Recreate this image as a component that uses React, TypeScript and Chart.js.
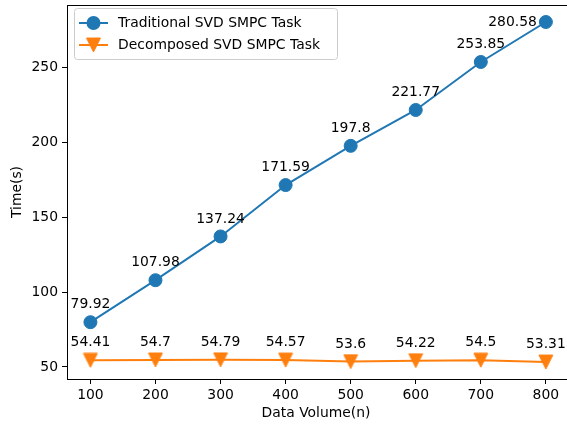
import React, { useEffect, useRef } from "react";
import { Chart, registerables } from "chart.js";

Chart.register(...registerables);

const categories = [100, 200, 300, 400, 500, 600, 700, 800];
const traditional = [79.92, 107.98, 137.24, 171.59, 197.8, 221.77, 253.85, 280.58];
const decomposed = [54.41, 54.7, 54.79, 54.57, 53.6, 54.22, 54.5, 53.31];
const yTicks = [50, 100, 150, 200, 250];
const xTicks = [100, 200, 300, 400, 500, 600, 700, 800];
const seriesNames = ["Traditional SVD SMPC Task", "Decomposed SVD SMPC Task"];

const BLUE = "#1f77b4";
const ORANGE = "#ff7f0e";
const FONT = "'DejaVu Sans', sans-serif";
const FS = 13.9;

function drawTriangle(ctx: CanvasRenderingContext2D, x: number, y: number, s: number, color: string) {
  ctx.save();
  ctx.fillStyle = color;
  ctx.strokeStyle = color;
  ctx.lineWidth = 1;
  ctx.beginPath();
  ctx.moveTo(x - s / 2, y - s / 2);
  ctx.lineTo(x + s / 2, y - s / 2);
  ctx.lineTo(x, y + s / 2);
  ctx.closePath();
  ctx.fill();
  ctx.stroke();
  ctx.restore();
}

function makeTriangleImage() {
  const c = document.createElement("canvas");
  c.width = 16;
  c.height = 16;
  const ctx = c.getContext("2d")!;
  drawTriangle(ctx, 8, 8, 13.9, ORANGE);
  return c;
}

export default function App() {
  const ref = useRef<HTMLCanvasElement>(null);
  useEffect(() => {
    document.body.style.margin = "0";
    const tri = makeTriangleImage();
    const overlay = {
      id: "overlay",
      afterDatasetsDraw(chart: any) {
        const ctx = chart.ctx as CanvasRenderingContext2D;
        const a = chart.chartArea;
        const xs = chart.scales.x;
        const ys = chart.scales.y;
        ctx.save();
        // frame (top spine; right spine falls outside the picture)
        ctx.strokeStyle = "#000";
        ctx.lineWidth = 1;
        ctx.beginPath();
        ctx.moveTo(Math.round(a.left) + 0.5, Math.round(a.top) + 0.5);
        ctx.lineTo(a.right + 2, Math.round(a.top) + 0.5);
        ctx.stroke();
        // data labels
        ctx.fillStyle = "#000";
        ctx.font = `${FS}px ${FONT}`;
        ctx.textBaseline = "alphabetic";
        const lab = (arr: number[]) => {
          arr.forEach((v, i) => {
            const px = xs.getPixelForValue(categories[i]);
            const py = ys.getPixelForValue(v);
            if (arr === traditional && i === arr.length - 1) {
              ctx.textAlign = "right";
              ctx.textBaseline = "middle";
              ctx.fillText(String(v), px - 9, py);
              ctx.textBaseline = "alphabetic";
            } else {
              ctx.textAlign = "center";
              ctx.fillText(String(v), px, py - 13.9);
            }
          });
        };
        lab(traditional);
        lab(decomposed);
        // axis titles
        ctx.textAlign = "center";
        ctx.textBaseline = "middle";
        ctx.fillText("Data Volume(n)", 316, 413);
        ctx.save();
        ctx.translate(17, (a.top + a.bottom) / 2);
        ctx.rotate(-Math.PI / 2);
        ctx.fillText("Time(s)", 0, 0);
        ctx.restore();
        // legend
        const lx = 74.5, ly = 8.5, lw = 263, lh = 51, r = 3;
        ctx.beginPath();
        ctx.moveTo(lx + r, ly);
        ctx.arcTo(lx + lw, ly, lx + lw, ly + lh, r);
        ctx.arcTo(lx + lw, ly + lh, lx, ly + lh, r);
        ctx.arcTo(lx, ly + lh, lx, ly, r);
        ctx.arcTo(lx, ly, lx + lw, ly, r);
        ctx.closePath();
        ctx.fillStyle = "rgba(255,255,255,0.8)";
        ctx.fill();
        ctx.strokeStyle = "#cccccc";
        ctx.lineWidth = 1;
        ctx.stroke();
        const rows = [23, 45];
        const colors = [BLUE, ORANGE];
        rows.forEach((ry, k) => {
          ctx.strokeStyle = colors[k];
          ctx.lineWidth = 2;
          ctx.beginPath();
          ctx.moveTo(79, ry);
          ctx.lineTo(108, ry);
          ctx.stroke();
          if (k === 0) {
            ctx.fillStyle = BLUE;
            ctx.beginPath();
            ctx.arc(93.5, ry, 7, 0, Math.PI * 2);
            ctx.fill();
          } else {
            drawTriangle(ctx, 93.5, ry, 13.9, ORANGE);
          }
          ctx.fillStyle = "#000";
          ctx.textAlign = "left";
          ctx.textBaseline = "middle";
          ctx.fillText(seriesNames[k], 118, ry);
        });
        ctx.restore();
      },
    };
    const chart = new Chart(ref.current!, {
      type: "line",
      data: {
        datasets: [
          {
            label: seriesNames[0],
            data: categories.map((c, i) => ({ x: c, y: traditional[i] })),
            borderColor: BLUE,
            backgroundColor: BLUE,
            borderWidth: 2,
            pointRadius: 6.5,
            pointBorderWidth: 1,
            pointStyle: "circle",
          },
          {
            label: seriesNames[1],
            data: categories.map((c, i) => ({ x: c, y: decomposed[i] })),
            borderColor: ORANGE,
            backgroundColor: ORANGE,
            borderWidth: 2,
            pointStyle: tri as any,
            pointRadius: 8,
          },
        ],
      },
      options: {
        animation: false,
        responsive: false,
        maintainAspectRatio: false,
        layout: { autoPadding: false, padding: { top: 5, right: 0, left: 0, bottom: 0 } },
        plugins: { legend: { display: false }, tooltip: { enabled: false } },
        scales: {
          x: {
            type: "linear",
            min: 64,
            max: 832.5,
            afterBuildTicks: (s: any) => {
              s.ticks = xTicks.map((v) => ({ value: v }));
            },
            afterFit: (s: any) => {
              s.height = 50;
              s.paddingLeft = 0;
              s.paddingRight = 0;
            },
            grid: { display: true, drawOnChartArea: false, drawTicks: true, tickLength: 5, color: "#000" },
            border: { display: true, color: "#000" },
            ticks: { color: "#000", font: { family: FONT, size: FS }, padding: 3, maxRotation: 0 },
          },
          y: {
            type: "linear",
            min: 41.95,
            max: 291.94,
            afterBuildTicks: (s: any) => {
              s.ticks = yTicks.map((v) => ({ value: v }));
            },
            afterFit: (s: any) => {
              s.width = 67;
              s.paddingTop = 0;
              s.paddingBottom = 0;
            },
            grid: { display: true, drawOnChartArea: false, drawTicks: true, tickLength: 5, color: "#000" },
            border: { display: true, color: "#000" },
            ticks: { color: "#000", font: { family: FONT, size: FS }, padding: 4 },
          },
        },
      } as any,
      plugins: [overlay],
    });
    return () => chart.destroy();
  }, []);
  return <canvas ref={ref} width={567} height={429} style={{ display: "block" }} />;
}
